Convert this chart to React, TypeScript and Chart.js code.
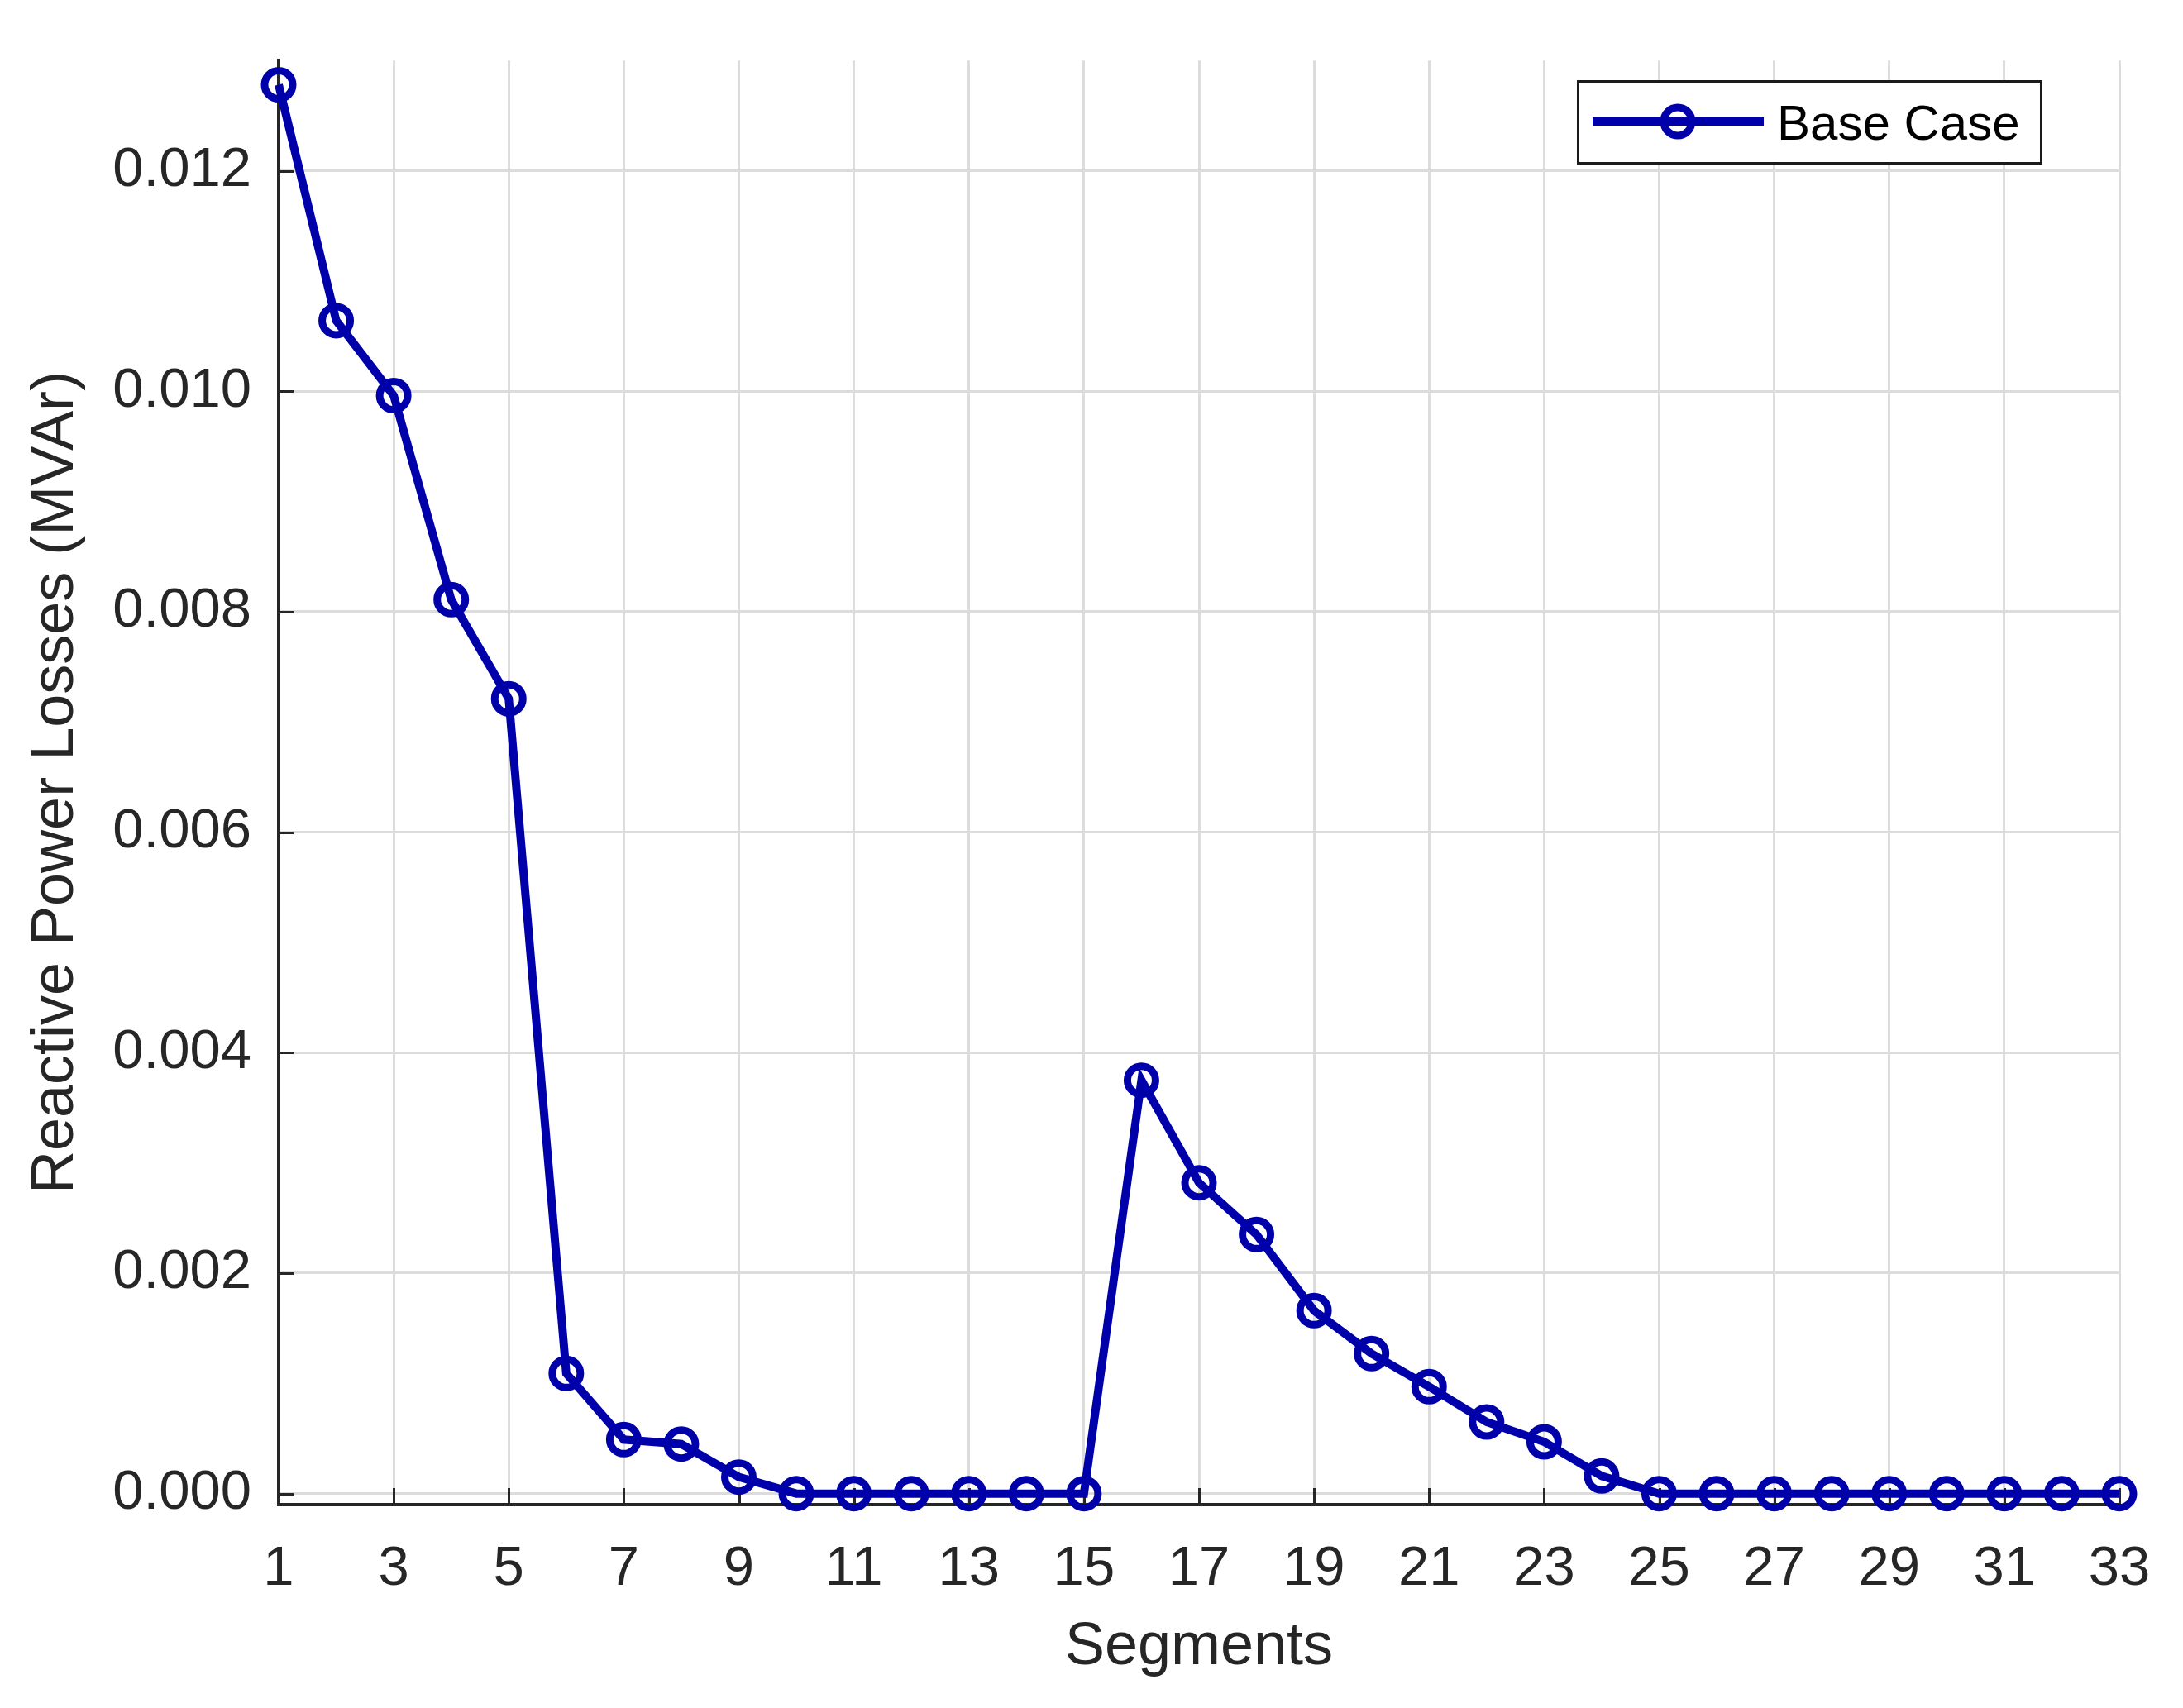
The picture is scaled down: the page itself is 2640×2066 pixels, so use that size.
import { useEffect, useRef } from 'react';
import { Chart, registerables } from 'chart.js';

Chart.register(...registerables);

const segments = [1, 2, 3, 4, 5, 6, 7, 8, 9, 10, 11, 12, 13, 14, 15, 16, 17, 18, 19, 20, 21, 22, 23, 24, 25, 26, 27, 28, 29, 30, 31, 32, 33];
const reactiveLosses = [
  0.01278, 0.01064, 0.00996, 0.00811, 0.00721, 0.00109, 0.00049, 0.00045, 0.00015,
  0, 0, 0, 0, 0, 0,
  0.00375, 0.00282, 0.00235, 0.00166, 0.00127, 0.00097, 0.00065, 0.00047, 0.00016,
  0, 0, 0, 0, 0, 0, 0, 0, 0,
];
const xTickValues = [1, 3, 5, 7, 9, 11, 13, 15, 17, 19, 21, 23, 25, 27, 29, 31, 33];
const yTickValues = [0, 0.002, 0.004, 0.006, 0.008, 0.01, 0.012];
const seriesLabel = 'Base Case';
const xTitle = 'Segments';
const yTitle = 'Reactive Power Losses (MVAr)';
const xMin = 1;
const xMax = 33;
const yMin = -0.0001;
const yMax = 0.013;

const W = 2640;
const H = 2066;
const LINE = '#0000aa';
const AXIS = '#262626';
const GRID = '#dcdcdc';
const FONT = "'Liberation Sans', Arial, Helvetica, sans-serif";

const inwardTicks = {
  id: 'inwardTicks',
  beforeDatasetsDraw(chart: any) {
    const { ctx, chartArea, scales } = chart;
    const { left, bottom } = chartArea;
    ctx.save();
    ctx.strokeStyle = AXIS;
    ctx.lineWidth = 3;
    ctx.beginPath();
    scales.x.ticks.forEach((t: any) => {
      const px = Math.round(scales.x.getPixelForValue(t.value)) + 0.5;
      ctx.moveTo(px, bottom);
      ctx.lineTo(px, bottom - 20);
    });
    scales.y.ticks.forEach((t: any) => {
      const py = Math.round(scales.y.getPixelForValue(t.value)) + 0.5;
      ctx.moveTo(left, py);
      ctx.lineTo(left + 18, py);
    });
    ctx.stroke();
    ctx.restore();
  },
};

const boxLegend = {
  id: 'boxLegend',
  afterDraw(chart: any) {
    const { ctx } = chart;
    const ds = chart.data.datasets[0];
    const bx = 1908, by = 98, bw = 560, bh = 99;
    ctx.save();
    ctx.fillStyle = '#ffffff';
    ctx.fillRect(bx, by, bw, bh);
    ctx.strokeStyle = '#1a1a1a';
    ctx.lineWidth = 3;
    ctx.strokeRect(bx + 0.5, by + 0.5, bw, bh);
    const cy = 147;
    ctx.strokeStyle = ds.borderColor;
    ctx.lineWidth = ds.borderWidth;
    ctx.beginPath();
    ctx.moveTo(1926, cy);
    ctx.lineTo(2133, cy);
    ctx.stroke();
    ctx.lineWidth = ds.pointBorderWidth;
    ctx.beginPath();
    ctx.arc(2029, cy, ds.pointRadius, 0, Math.PI * 2);
    ctx.stroke();
    ctx.fillStyle = '#000000';
    ctx.font = `60px ${FONT}`;
    ctx.textBaseline = 'alphabetic';
    ctx.textAlign = 'left';
    ctx.fillText(ds.label, 2149, 169);
    ctx.restore();
  },
};

export default function App() {
  const ref = useRef<HTMLCanvasElement | null>(null);

  useEffect(() => {
    if (!ref.current) return;
    const chart = new Chart(ref.current, {
      type: 'line',
      data: {
        datasets: [
          {
            label: seriesLabel,
            data: segments.map((s, i) => ({ x: s, y: reactiveLosses[i] })),
            borderColor: LINE,
            borderWidth: 10,
            pointRadius: 17,
            pointHoverRadius: 17,
            pointBorderWidth: 9,
            pointBorderColor: LINE,
            pointBackgroundColor: 'rgba(0,0,0,0)',
            tension: 0,
            clip: false as any,
          } as any,
        ],
      },
      options: {
        animation: false,
        responsive: false,
        maintainAspectRatio: false,
        devicePixelRatio: 1,
        layout: { padding: { top: 70, right: 77, bottom: 0, left: 0 } },
        plugins: {
          legend: { display: false },
          tooltip: { enabled: false },
        },
        scales: {
          x: {
            type: 'linear',
            min: xMin,
            max: xMax,
            afterBuildTicks: (axis: any) => {
              axis.ticks = xTickValues.map((v) => ({ value: v }));
            },
            afterFit: (axis: any) => {
              axis.height = 246;
            },
            grid: { color: GRID, lineWidth: 3, drawTicks: false },
            border: { display: true, color: AXIS, width: 4 },
            ticks: {
              autoSkip: false,
              maxRotation: 0,
              padding: 38,
              color: AXIS,
              font: { family: FONT, size: 67 },
              callback: (v: any) => String(v),
            },
            title: {
              display: true,
              text: xTitle,
              color: AXIS,
              font: { family: FONT, size: 72 },
              padding: { top: 0, bottom: 30 },
            },
          },
          y: {
            type: 'linear',
            min: yMin,
            max: yMax,
            afterBuildTicks: (axis: any) => {
              axis.ticks = yTickValues.map((v) => ({ value: v }));
            },
            afterFit: (axis: any) => {
              axis.width = 337;
            },
            grid: { color: GRID, lineWidth: 3, drawTicks: false },
            border: { display: true, color: AXIS, width: 4 },
            ticks: {
              autoSkip: false,
              padding: 33,
              color: AXIS,
              font: { family: FONT, size: 67 },
              callback: (v: any) => Number(v).toFixed(3),
            },
            title: {
              display: true,
              text: yTitle,
              color: AXIS,
              font: { family: FONT, size: 72 },
              padding: { top: 25, bottom: 0 },
            },
          },
        },
      },
      plugins: [inwardTicks, boxLegend],
    });
    return () => chart.destroy();
  }, []);

  return (
    <div style={{ position: 'absolute', left: 0, top: 0, width: W, height: H, background: '#ffffff' }}>
      <canvas ref={ref} width={W} height={H} style={{ width: W, height: H, display: 'block' }} />
    </div>
  );
}
